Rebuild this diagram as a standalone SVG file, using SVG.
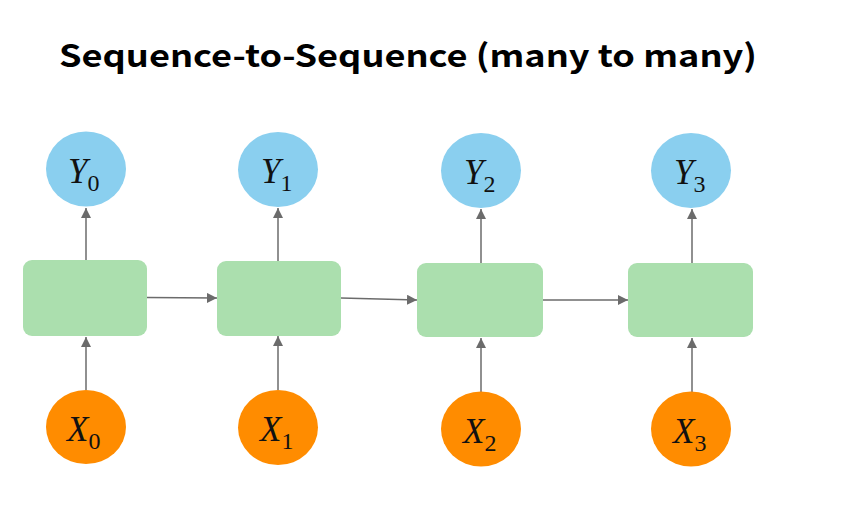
<svg xmlns="http://www.w3.org/2000/svg" width="866" height="518" viewBox="0 0 866 518">
<defs>
<style>
.title{font-family:"Noto Sans CJK KR","Noto Sans",sans-serif;font-weight:bold;font-size:31px;fill:#000}
.box{fill:#ABDFAE}
.out{fill:#8ACFEF}
.in{fill:#FF8C00}
.lbl{font-family:"Liberation Serif","DejaVu Serif",serif;font-size:35px;fill:#111}
.v{font-style:italic}
.sub{font-size:24px;font-style:normal}
.c{stroke:#6b6b6b;stroke-width:1.5;fill:none}
</style>
<marker id="ah" viewBox="0 0 10 10" refX="10" refY="5" markerWidth="10" markerHeight="10" markerUnits="userSpaceOnUse" orient="auto">
<path d="M0,0 L10,5 L0,10 z" fill="#6b6b6b"/>
</marker>
</defs>
<rect width="866" height="518" fill="#fff"/>
<text class="title" x="59" y="67" textLength="698" lengthAdjust="spacingAndGlyphs">Sequence-to-Sequence (many to many)</text>
<g id="connectors">
<line class="c" x1="86" y1="260" x2="86" y2="208" marker-end="url(#ah)"/>
<line class="c" x1="278" y1="261" x2="278" y2="208" marker-end="url(#ah)"/>
<line class="c" x1="481" y1="263" x2="481" y2="209" marker-end="url(#ah)"/>
<line class="c" x1="692" y1="263" x2="692" y2="209" marker-end="url(#ah)"/>
<line class="c" x1="86" y1="390" x2="86" y2="337" marker-end="url(#ah)"/>
<line class="c" x1="278" y1="390" x2="278" y2="336" marker-end="url(#ah)"/>
<line class="c" x1="481" y1="392" x2="481" y2="338" marker-end="url(#ah)"/>
<line class="c" x1="692" y1="392" x2="692" y2="338" marker-end="url(#ah)"/>
<line class="c" x1="147" y1="297.5" x2="217" y2="298" marker-end="url(#ah)"/>
<line class="c" x1="341" y1="298" x2="417" y2="300" marker-end="url(#ah)"/>
<line class="c" x1="543" y1="300" x2="628" y2="300" marker-end="url(#ah)"/>
</g>
<g id="h0"><rect class="box" x="23" y="260" width="124" height="76" rx="9"/></g>
<g id="h1"><rect class="box" x="217" y="261" width="124" height="75" rx="9"/></g>
<g id="h2"><rect class="box" x="417" y="263" width="126" height="74" rx="9"/></g>
<g id="h3"><rect class="box" x="628" y="263" width="125" height="74" rx="9"/></g>
<g id="y0"><ellipse class="out" cx="86" cy="169" rx="40" ry="37.5"/><text class="lbl" x="68" y="183"><tspan class="v">Y</tspan><tspan class="sub" dy="8">0</tspan></text></g>
<g id="y1"><ellipse class="out" cx="278" cy="169.5" rx="40" ry="37.5"/><text class="lbl" x="261" y="183"><tspan class="v">Y</tspan><tspan class="sub" dy="8">1</tspan></text></g>
<g id="y2"><ellipse class="out" cx="481" cy="170.5" rx="40" ry="37.5"/><text class="lbl" x="464" y="184"><tspan class="v">Y</tspan><tspan class="sub" dy="8">2</tspan></text></g>
<g id="y3"><ellipse class="out" cx="691" cy="170.5" rx="40" ry="37.5"/><text class="lbl" x="674" y="184"><tspan class="v">Y</tspan><tspan class="sub" dy="8">3</tspan></text></g>
<g id="x0"><ellipse class="in" cx="86" cy="427" rx="40" ry="37"/><text class="lbl" x="67" y="441"><tspan class="v">X</tspan><tspan class="sub" dy="8">0</tspan></text></g>
<g id="x1"><ellipse class="in" cx="278" cy="427.5" rx="40" ry="37.5"/><text class="lbl" x="260" y="441"><tspan class="v">X</tspan><tspan class="sub" dy="8">1</tspan></text></g>
<g id="x2"><ellipse class="in" cx="481" cy="429" rx="40" ry="37.5"/><text class="lbl" x="463" y="443"><tspan class="v">X</tspan><tspan class="sub" dy="8">2</tspan></text></g>
<g id="x3"><ellipse class="in" cx="691" cy="429" rx="40" ry="37.5"/><text class="lbl" x="673" y="443"><tspan class="v">X</tspan><tspan class="sub" dy="8">3</tspan></text></g>
</svg>
